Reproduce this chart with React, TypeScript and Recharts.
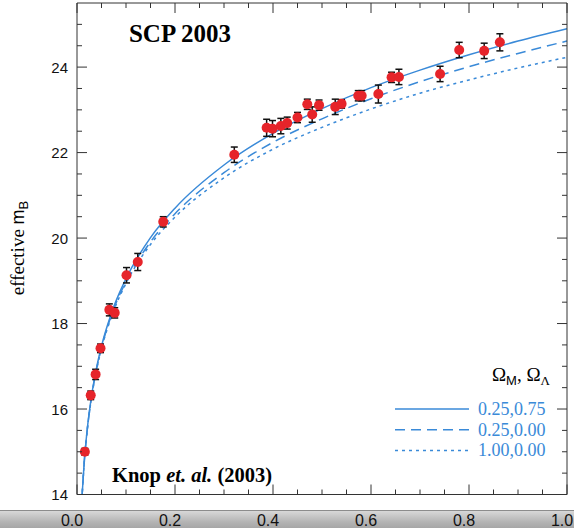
import React from 'react';
import { ComposedChart, Line, Scatter, ErrorBar, XAxis, YAxis } from 'recharts';

// model curves
const curveZ = [0.01, 0.015, 0.02, 0.03, 0.04, 0.05, 0.075, 0.1, 0.15, 0.2, 0.3, 0.4, 0.5, 0.6, 0.7, 0.8, 0.9, 1.0];
const lambdaM = [13.91, 14.8, 15.43, 16.33, 16.97, 17.47, 18.39, 19.05, 20.01, 20.7, 21.71, 22.45, 23.03, 23.52, 23.93, 24.29, 24.61, 24.9];
const openM = [13.9, 14.79, 15.41, 16.3, 16.94, 17.43, 18.34, 18.98, 19.91, 20.57, 21.53, 22.24, 22.79, 23.26, 23.66, 24.01, 24.32, 24.61];
const flatM = [13.9, 14.78, 15.41, 16.29, 16.92, 17.41, 18.3, 18.94, 19.85, 20.49, 21.41, 22.08, 22.59, 23.02, 23.39, 23.7, 23.98, 24.23];

// supernovae
const sneZ = [0.016, 0.028, 0.038, 0.048, 0.066, 0.077, 0.101, 0.124, 0.176, 0.321, 0.387, 0.399, 0.416, 0.429, 0.45, 0.47, 0.48, 0.494, 0.527, 0.54, 0.574, 0.581, 0.615, 0.642, 0.657, 0.741, 0.78, 0.831, 0.863];
const sneM = [15.0, 16.32, 16.81, 17.42, 18.32, 18.25, 19.13, 19.44, 20.38, 21.95, 22.58, 22.56, 22.62, 22.69, 22.82, 23.13, 22.89, 23.11, 23.07, 23.14, 23.33, 23.33, 23.37, 23.76, 23.77, 23.84, 24.4, 24.38, 24.58];
const sneErr = [0.08, 0.1, 0.12, 0.1, 0.14, 0.12, 0.18, 0.2, 0.12, 0.18, 0.2, 0.19, 0.18, 0.14, 0.12, 0.12, 0.18, 0.12, 0.18, 0.1, 0.12, 0.12, 0.21, 0.12, 0.18, 0.18, 0.18, 0.18, 0.2];

const xTicks = [0, 0.05, 0.1, 0.15, 0.2, 0.25, 0.3, 0.35, 0.4, 0.45, 0.5, 0.55, 0.6, 0.65, 0.7, 0.75, 0.8, 0.85, 0.9, 0.95, 1.0];
const xLabels = [0, 0.2, 0.4, 0.6, 0.8, 1.0];
const yTicks = [14, 14.5, 15, 15.5, 16, 16.5, 17, 17.5, 18, 18.5, 19, 19.5, 20, 20.5, 21, 21.5, 22, 22.5, 23, 23.5, 24, 24.5, 25];
const yLabels = [14, 16, 18, 20, 22, 24];

const models = [
  { name: '0.25,0.75', m: lambdaM, dash: undefined },
  { name: '0.25,0.00', m: openM, dash: '10 6' },
  { name: '1.00,0.00', m: flatM, dash: '3 4' },
];

const BLUE = '#3a8ad8';
const FRAME = '#333';
const sans = '"Liberation Sans", Arial, sans-serif';
const serif = '"Liberation Serif", "Times New Roman", serif';

const near = (v: number, list: number[]) => list.some((t) => Math.abs(t - v) < 1e-6);

// ticks point inward; frame edges sit at the axis line
const BottomTick = ({ x, payload }: any) => {
  const major = near(payload.value, xLabels);
  const y0 = 494.5;
  return (
    <g>
      <line x1={x} y1={y0} x2={x} y2={y0 - (major ? 10 : 5)} stroke={FRAME} />
      {major && (
        <text x={x - 5} y={526} textAnchor="middle" fontSize={16} fontFamily={sans} fill="#111">
          {payload.value.toFixed(1)}
        </text>
      )}
    </g>
  );
};

const TopTick = ({ x, payload }: any) => (
  <line x1={x} y1={3} x2={x} y2={3 + (near(payload.value, xLabels) ? 10 : 5)} stroke={FRAME} />
);

const LeftTick = ({ y, payload }: any) => {
  const major = near(payload.value, yLabels);
  return (
    <g>
      <line x1={77} y1={y} x2={77 + (major ? 10 : 5)} y2={y} stroke={FRAME} />
      {major && (
        <text x={68} y={y + 5.5} textAnchor="end" fontSize={15} fontFamily={sans} fill="#111">
          {payload.value}
        </text>
      )}
    </g>
  );
};

const RightTick = ({ y, payload }: any) => (
  <line x1={567} y1={y} x2={567 - (near(payload.value, yLabels) ? 10 : 5)} y2={y} stroke={FRAME} />
);

const Dot = ({ cx, cy }: any) => <circle cx={cx} cy={cy} r={5} fill="#e6242a" />;

export default function App() {
  const curves = models.map((mod) => curveZ.map((z, i) => ({ z, m: mod.m[i] })));
  const sne = sneZ.map((z, i) => ({ z, m: sneM[i], err: sneErr[i] }));

  const xCommon = {
    type: 'number' as const,
    dataKey: 'z',
    domain: [0, 1] as [number, number],
    allowDataOverflow: true,
    ticks: xTicks,
    interval: 0 as const,
    height: 1,
    tickSize: 0,
    tickMargin: 0,
    tickLine: false,
    axisLine: { stroke: FRAME },
  };
  const yCommon = {
    type: 'number' as const,
    dataKey: 'm',
    domain: [14, 25.5] as [number, number],
    allowDataOverflow: true,
    ticks: yTicks,
    interval: 0 as const,
    width: 1,
    tickSize: 0,
    tickMargin: 0,
    tickLine: false,
    axisLine: { stroke: FRAME },
  };

  return (
    <div style={{ position: 'absolute', left: 0, top: 0, width: 574, height: 528, background: '#fff', overflow: 'hidden' }}>
      <div
        style={{
          position: 'absolute',
          left: 0,
          top: 510,
          width: 574,
          height: 18,
          borderTop: '1px solid #8c8c8c',
          background: 'linear-gradient(to bottom, #d8d8d8, #b4b4b4 60%, #a4a4a4)',
        }}
      />
      <div style={{ position: 'absolute', left: 0, top: 0 }}>
        <ComposedChart width={574} height={528} margin={{ top: 2, right: 6, bottom: 32.5, left: 76 }}>
          <XAxis xAxisId="b" {...xCommon} tick={<BottomTick />} />
          <XAxis xAxisId="t" orientation="top" {...xCommon} tick={<TopTick />} />
          <YAxis yAxisId="l" {...yCommon} tick={<LeftTick />} />
          <YAxis yAxisId="r" orientation="right" {...yCommon} tick={<RightTick />} />
          {models.map((mod, k) => (
            <Line
              key={mod.name}
              xAxisId="b"
              yAxisId="l"
              data={curves[k]}
              dataKey="m"
              type="monotone"
              stroke={BLUE}
              strokeWidth={1.5}
              strokeDasharray={mod.dash}
              dot={false}
              activeDot={false}
              isAnimationActive={false}
            />
          ))}
          <Scatter xAxisId="b" yAxisId="l" data={sne} dataKey="m" shape={<Dot />} isAnimationActive={false}>
            <ErrorBar dataKey="err" direction="y" width={3.5} stroke="#111" strokeWidth={1.5} isAnimationActive={false} />
          </Scatter>
        </ComposedChart>
      </div>
      <svg width={574} height={528} style={{ position: 'absolute', left: 0, top: 0, pointerEvents: 'none' }}>
        <text x={180} y={42} textAnchor="middle" fontFamily={serif} fontWeight="bold" fontSize={25} fill="#000">
          SCP 2003
        </text>
        <text x={112} y={481.5} fontFamily={serif} fontWeight="bold" fontSize={20.5} fill="#000">
          Knop <tspan fontStyle="italic">et. al.</tspan> (2003)
        </text>
        <text transform="translate(24,248) rotate(-90)" textAnchor="middle" fontFamily={serif} fontSize={19} fill="#000">
          effective <tspan fontFamily={sans} fontSize={18}>m</tspan>
          <tspan fontFamily={sans} fontSize={13} dy={4}>B</tspan>
        </text>
        <text x={550} y={381} textAnchor="end" fontFamily={serif} fontSize={19} fill="#000">
          Ω<tspan fontFamily={sans} fontSize={13} dy={4}>M</tspan>
          <tspan dy={-4}>, Ω</tspan>
          <tspan fontSize={13} dy={4}>Λ</tspan>
        </text>
        {models.map((mod, k) => (
          <g key={mod.name}>
            <line x1={395} x2={469} y1={409 + k * 20.7} y2={409 + k * 20.7} stroke={BLUE} strokeWidth={1.5} strokeDasharray={mod.dash} />
            <text x={478} y={415 + k * 20.7} fontFamily={serif} fontSize={18} fill={BLUE}>
              {mod.name}
            </text>
          </g>
        ))}
      </svg>
    </div>
  );
}
